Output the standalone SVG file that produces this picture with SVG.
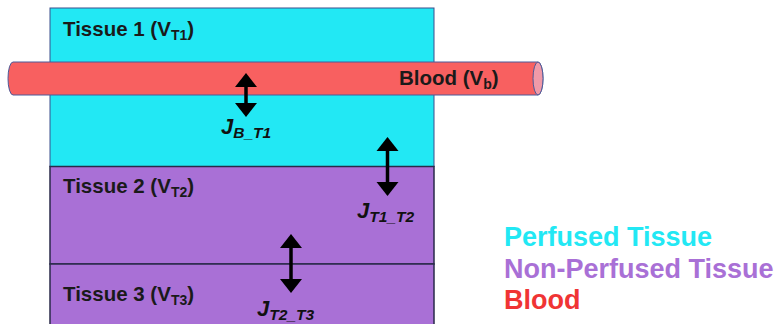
<svg xmlns="http://www.w3.org/2000/svg" width="784" height="324" viewBox="0 0 784 324">
<style>
.lbl{font-family:"Liberation Sans",Arial,sans-serif;font-weight:bold;font-size:20.5px;fill:#1a1a1a}
.j{font-family:"Liberation Sans",Arial,sans-serif;font-weight:bold;font-style:italic;font-size:22px;fill:#111}
.leg{font-family:"Liberation Sans",Arial,sans-serif;font-weight:bold;font-size:27px}
.arr{stroke:#000;stroke-width:3.5;fill:none;marker-start:url(#ah);marker-end:url(#ah)}
</style>
<defs>
<marker id="ah" viewBox="0 0 13 22" refX="0" refY="11" markerWidth="13" markerHeight="22" markerUnits="userSpaceOnUse" orient="auto-start-reverse" overflow="visible">
<path d="M-1,0 L13,11 L-1,22 Z" fill="#000"/>
</marker>
</defs>
<rect width="784" height="324" fill="#fff"/>
<g id="tissue1">
<rect x="50" y="8" width="384" height="158.5" fill="#22E8F4" stroke="#3A4E8C" stroke-width="1"/>
<text class="lbl" x="63" y="36">Tissue 1 (V<tspan font-size="14" dy="4">T1</tspan><tspan dy="-4">)</tspan></text>
</g>
<g id="tissue2">
<rect x="50" y="166.5" width="384" height="97.5" fill="#A970D6" stroke="#2a2a4a" stroke-width="1.5"/>
<text class="lbl" x="63" y="193">Tissue 2 (V<tspan font-size="14" dy="4">T2</tspan><tspan dy="-4">)</tspan></text>
</g>
<g id="tissue3">
<rect x="50" y="264" width="384" height="70" fill="#A970D6" stroke="#2a2a4a" stroke-width="1.5"/>
<text class="lbl" x="63" y="301">Tissue 3 (V<tspan font-size="14" dy="4">T3</tspan><tspan dy="-4">)</tspan></text>
</g>
<g id="blood">
<path d="M13,62 L538,62 A5,16.5 0 0 1 538,95 L13,95 A5,16.5 0 0 1 13,62 Z" fill="#F86060" stroke="#4A5A9A" stroke-width="1"/>
<ellipse cx="538" cy="78.5" rx="5" ry="16.5" fill="#F09AA8" stroke="#4A5A9A" stroke-width="1"/>
<text class="lbl" x="399" y="85">Blood (V<tspan font-size="14" dy="4">b</tspan><tspan dy="-4">)</tspan></text>
</g>
<g id="connectors">
<line class="arr" x1="246" y1="86" x2="246" y2="104"/>
<line class="arr" x1="387.5" y1="150" x2="387.5" y2="183"/>
<line class="arr" x1="291" y1="247" x2="291" y2="280"/>
</g>
<g id="labels">
<text class="j" x="221" y="134">J<tspan font-size="15.5" dy="4">B_T1</tspan></text>
<text class="j" x="357" y="218">J<tspan font-size="15.5" dy="4">T1_T2</tspan></text>
<text class="j" x="257" y="316">J<tspan font-size="15.5" dy="4">T2_T3</tspan></text>
</g>
<g id="legend">
<text class="leg" x="504" y="246" fill="#22E8F4">Perfused Tissue</text>
<text class="leg" x="504" y="278" fill="#A970D6">Non-Perfused Tissue</text>
<text class="leg" x="504" y="309" fill="#F03434">Blood</text>
</g>
</svg>
